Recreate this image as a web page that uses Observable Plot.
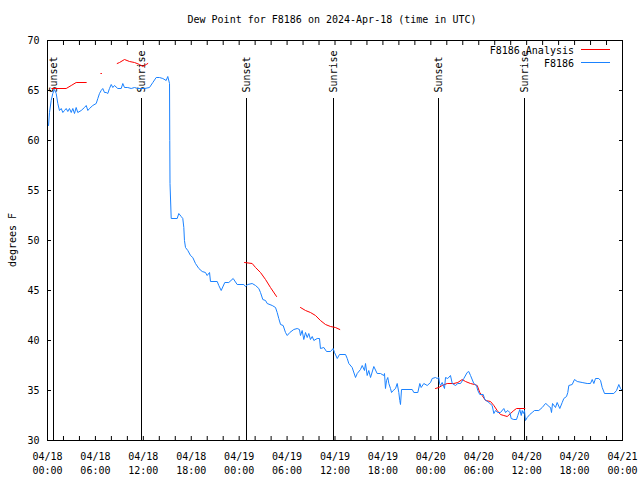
<!DOCTYPE html>
<html><head><meta charset="utf-8">
<script src="https://cdn.jsdelivr.net/npm/d3@7"></script>
<script src="https://cdn.jsdelivr.net/npm/@observablehq/plot@0.6"></script>
<style>body{margin:0;background:#fff} svg{display:block}</style>
</head><body><div id="chart"></div>
<script>
const titleText = "Dew Point for F8186 on 2024-Apr-18 (time in UTC)";
const yLabelText = "degrees F";
const xTickHours = [0, 6, 12, 18, 24, 30, 36, 42, 48, 54, 60, 66, 72];
const xTickLabels = ["04/18\n00:00","04/18\n06:00","04/18\n12:00","04/18\n18:00",
  "04/19\n00:00","04/19\n06:00","04/19\n12:00","04/19\n18:00",
  "04/20\n00:00","04/20\n06:00","04/20\n12:00","04/20\n18:00","04/21\n00:00"];
const yTicks = [30, 35, 40, 45, 50, 55, 60, 65, 70];
const seriesNames = ["F8186 Analysis", "F8186"];
const seriesColors = ["#ff0000", "#1a82ff"];

// hours since 2024-04-18 00:00 UTC
const sunHours = [0.75, 11.77, 24.92, 35.81, 48.96, 59.73];
const sunLabels = ["Sunset", "Sunrise", "Sunset", "Sunrise", "Sunset", "Sunrise"];

const blueHours = [0.13,0.25,0.46,0.66,0.88,1.09,1.29,1.50,1.72,1.92,2.13,2.34,2.54,2.75,2.97,3.17,3.38,3.59,3.79,4.22,4.63,4.85,5.05,5.26,5.67,6.10,6.30,6.51,6.72,6.92,7.14,7.35,7.55,7.76,7.98,8.18,8.39,8.80,9.23,9.43,9.64,10.05,10.48,10.89,11.31,11.73,12.15,12.77,13.19,13.61,14.02,14.44,14.86,15.06,15.28,15.31,15.34,15.49,16.24,16.44,16.74,16.94,17.07,17.15,17.28,17.57,17.91,18.19,18.53,18.95,19.37,19.78,19.99,20.29,20.41,21.25,21.45,21.75,22.20,22.70,23.25,23.75,24.58,24.79,25.08,25.63,26.05,26.46,26.67,26.96,27.30,27.51,28.14,28.55,28.76,28.96,29.18,29.51,29.80,30.02,30.34,30.84,31.27,31.55,31.68,31.89,32.09,32.31,32.52,32.72,32.93,33.15,33.35,33.77,34.06,34.18,34.60,34.94,35.44,35.77,35.94,36.28,36.56,37.32,37.53,37.73,38.15,38.57,38.78,39.19,39.41,39.69,39.82,40.03,40.23,40.45,40.86,41.28,41.70,42.11,42.20,42.32,42.45,42.61,42.74,42.95,43.08,43.29,43.58,43.79,43.99,44.11,44.20,44.33,45.67,45.87,46.37,46.62,46.79,47.12,47.55,47.96,48.17,48.58,48.80,49.00,49.09,49.21,49.42,49.71,49.84,50.12,50.46,50.68,51.09,51.38,51.72,52.13,52.55,52.75,52.97,53.38,53.72,53.88,54.13,54.56,54.76,55.26,55.68,55.89,56.10,56.39,56.72,57.14,57.35,57.64,57.89,58.06,58.39,58.73,58.89,59.14,59.32,59.44,59.57,59.73,59.85,60.07,60.39,60.69,60.98,61.52,61.95,62.36,62.57,62.77,62.99,63.11,63.24,63.61,63.82,64.15,64.45,64.65,64.99,65.15,65.28,65.70,65.99,66.33,66.95,67.58,67.99,68.21,68.41,68.62,69.03,69.25,69.46,69.75,70.91,71.25,71.54,71.75,71.97];
const blueValues = [61.5,62.8,64.0,64.7,65.1,64.7,63.7,63.0,63.2,62.8,63.0,63.2,62.9,63.2,62.8,63.2,62.7,63.3,62.8,63.0,63.3,63.5,63.0,63.2,63.5,63.7,64.2,64.7,65.0,65.2,64.8,64.8,64.7,65.2,65.6,65.3,65.5,65.2,65.2,65.7,65.3,65.3,65.2,65.3,65.2,65.2,65.2,65.3,65.8,66.3,66.3,66.2,66.0,66.4,65.7,60.0,55.7,52.2,52.2,52.7,52.4,52.2,51.3,50.0,49.3,49.0,48.5,48.3,47.7,47.2,46.9,46.8,46.5,46.8,45.9,45.9,45.5,45.0,45.8,45.8,46.2,45.6,45.6,45.4,45.6,45.7,45.5,45.2,44.8,44.1,44.0,43.7,43.5,43.3,42.8,42.2,41.6,41.5,40.8,40.5,40.8,41.1,41.2,41.1,40.5,41.0,40.1,40.8,40.3,40.7,40.1,40.4,40.0,40.2,40.2,39.2,39.3,38.9,38.9,39.2,38.8,38.2,38.6,38.6,38.2,37.7,37.3,36.3,36.7,37.1,37.5,37.0,37.7,36.5,37.0,36.3,37.4,36.7,36.7,36.5,36.7,35.2,36.0,36.3,35.7,35.2,34.8,35.0,35.2,35.7,34.8,34.0,33.6,35.1,35.1,34.8,34.8,35.7,35.3,35.7,35.5,35.8,36.2,36.3,36.2,36.3,35.7,35.5,35.8,35.2,36.3,36.2,36.5,35.7,35.5,35.7,35.7,36.2,36.8,36.9,36.5,35.7,35.5,35.0,34.6,34.6,34.1,33.8,33.5,32.7,33.0,32.8,32.8,33.2,32.8,33.0,32.8,32.2,32.1,32.1,32.5,33.1,32.5,33.0,32.7,33.0,32.0,32.3,32.6,32.8,33.0,33.0,33.3,33.7,33.6,33.4,33.3,32.8,33.7,33.3,33.8,33.2,33.8,34.2,34.4,34.8,35.5,35.6,36.1,35.9,35.8,35.7,35.7,36.1,35.7,36.2,36.2,36.0,35.3,34.7,34.7,35.0,35.6,35.2,35.0];

// analysis series; null separates segments
const redHours = [0.54,2.34,2.97,3.59,4.85, null, 6.68,6.76, null,
  8.73,9.02,9.64,10.27,10.89,11.52,11.93,12.36,12.56, null,
  24.67,25.63,26.05,26.67,27.30,27.92,28.68, null,
  31.68,32.31,32.93,33.56,34.18,34.81,35.44,36.06,36.60, null,
  48.58,49.00,49.42,50.05,50.88,51.38,51.93,52.34,52.97,53.47,53.81,54.13,54.43,54.85,55.47,55.89,56.31,56.72,57.14,57.56,57.98,58.39,58.73,59.77];
const redValues = [65.2,65.2,65.5,65.8,65.8, null, 66.7,66.7, null,
  67.7,67.8,68.1,67.9,67.8,67.6,67.4,67.6,67.7, null,
  47.8,47.7,47.3,46.8,46.1,45.3,44.4, null,
  43.3,43.0,42.8,42.5,42.0,41.6,41.4,41.3,41.1, null,
  35.2,35.3,35.5,35.7,35.7,35.8,36.1,35.9,35.7,35.6,35.5,34.8,34.5,34.0,33.9,33.5,33.0,32.6,32.5,32.4,32.7,33.0,33.2,33.2];

const blue = blueHours.map((h, i) => ({h, v: blueValues[i]}));
const red = redHours.map((h, i) => ({h, v: redValues[i]}));
const sun = sunHours.map((h, i) => ({h, label: sunLabels[i]}));
const FONT = "'DejaVu Sans Mono', monospace";

const chart = Plot.plot({
  width: 640, height: 480,
  marginLeft: 47, marginRight: 18, marginTop: 40, marginBottom: 40,
  style: {fontFamily: FONT, fontSize: "10px", color: "#000", background: "#fff"},
  x: {domain: [0, 72]},
  y: {domain: [30, 70]},
  marks: [
    Plot.ruleX(sun, {x: "h", y1: 30, y2: 64.2, stroke: "#000", shapeRendering: "crispEdges"}),
    Plot.text(sun, {x: "h", text: "label", frameAnchor: "top", dy: 52, rotate: -90, textAnchor: "start", lineAnchor: "middle", fill: "#000"}),
    Plot.line(red, {x: "h", y: "v", stroke: seriesColors[0], strokeWidth: 1}),
    Plot.line(blue, {x: "h", y: "v", stroke: seriesColors[1], strokeWidth: 1}),
    Plot.axisX({anchor: "bottom", ticks: d3.range(0, 73, 2), tickSize: -4, tickPadding: 14,
      tickFormat: h => { const i = xTickHours.indexOf(h); return i >= 0 ? xTickLabels[i] : ""; },
      lineHeight: 1.4, label: null}),
    Plot.axisX({anchor: "top", ticks: d3.range(0, 73, 2), tickSize: -4, tickFormat: () => "", label: null}),
    Plot.axisY({anchor: "left", ticks: yTicks, tickSize: -4, tickPadding: 12, label: null}),
    Plot.axisY({anchor: "right", ticks: yTicks, tickSize: -4, tickFormat: () => "", label: null}),
    Plot.frame({stroke: "#000", shapeRendering: "crispEdges"})
  ]
});
document.getElementById("chart").appendChild(chart);

const svg = d3.select(chart);
const g = svg.append("g").attr("font-family", FONT).attr("font-size", 10).attr("fill", "#000");
g.append("text").attr("x", 332).attr("y", 19).attr("dy", "0.35em").attr("text-anchor", "middle").text(titleText);
g.append("text").attr("transform", "translate(12,240) rotate(-90)").attr("dy", "0.35em").attr("text-anchor", "middle").text(yLabelText);
seriesNames.forEach((name, i) => {
  const y = 49 + i * 13;
  g.append("text").attr("x", 574).attr("y", y + 1).attr("dy", "0.35em").attr("text-anchor", "end").text(name);
  g.append("line").attr("x1", 581).attr("x2", 610).attr("y1", y).attr("y2", y).attr("stroke", seriesColors[i]).attr("stroke-width", 1).attr("shape-rendering", "crispEdges");
});
</script>
</body></html>
